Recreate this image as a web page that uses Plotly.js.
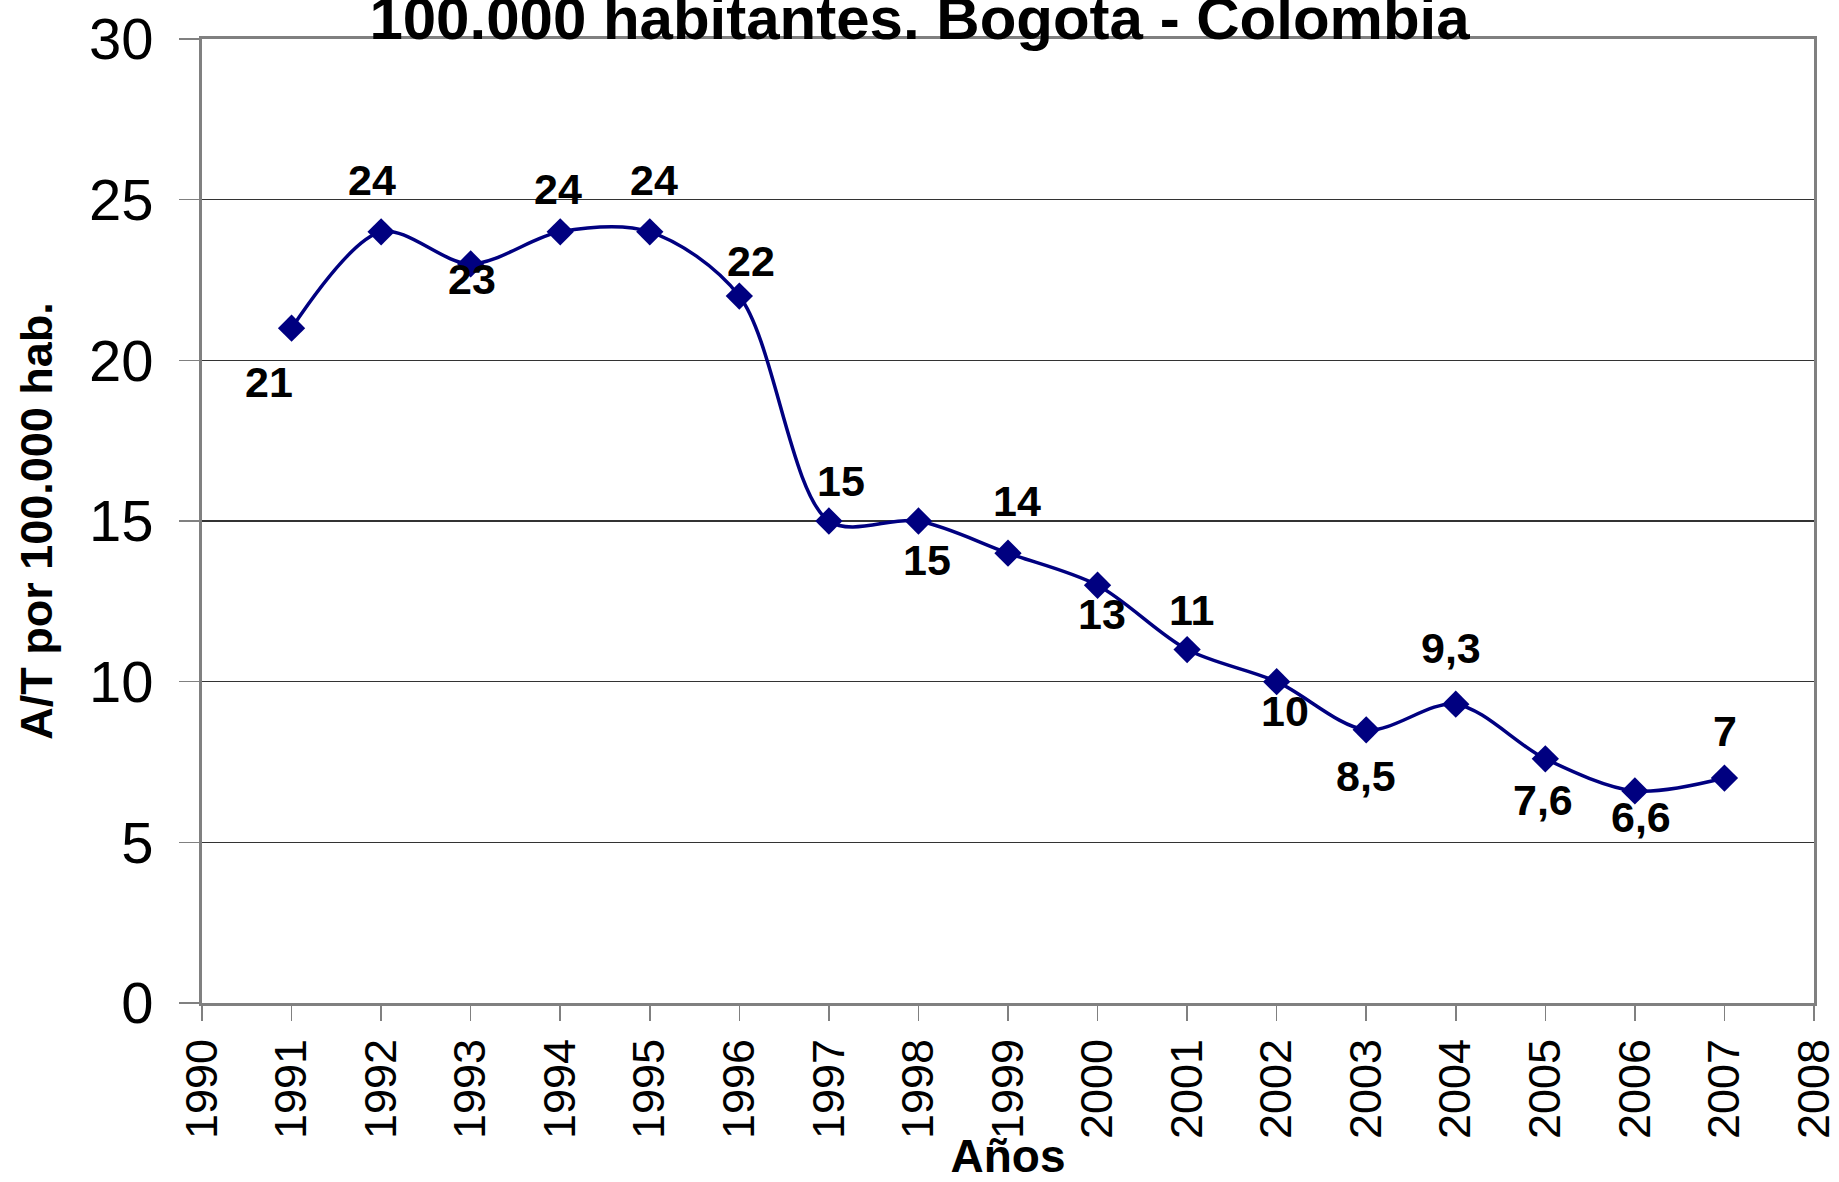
<!DOCTYPE html>
<html>
<head>
<meta charset="utf-8">
<script src="https://cdn.plot.ly/plotly-3.0.1.min.js"></script>
<style>html,body{margin:0;padding:0;background:#fff;}#chart{width:1839px;height:1182px;}</style>
</head>
<body>
<div id="chart"></div>
<script>
// Data
const years = [1991,1992,1993,1994,1995,1996,1997,1998,1999,2000,2001,2002,2003,2004,2005,2006,2007];
const rates = [21,24,23,24,24,22,15,15,14,13,11,10,8.5,9.3,7.6,6.6,7];
const titleText = "100.000 habitantes. Bogota - Colombia";
const xTitle = "Años";
const yTitle = "A/T por 100.000 hab.";
const xTickVals = [1990,1991,1992,1993,1994,1995,1996,1997,1998,1999,2000,2001,2002,2003,2004,2005,2006,2007,2008];
const yTickVals = [0,5,10,15,20,25,30];

// label placement (pixel offsets from each marker)
const labelDX = [-23,-9,1,-2,4,12,12,9,9,4,4,8,0,-5,-2,6,1];
const labelDY = [54,-52,15,-43,-52,-35,-40,39,-52,29,-40,29,46,-56,41,26,-47];

const fmt = v => String(v).replace('.', ',');
const boldFont = '"Liberation Sans", Arial, sans-serif';

const annotations = years.map((yr, i) => ({
  x: yr, y: rates[i], xref: 'x', yref: 'y',
  text: '<b>' + fmt(rates[i]) + '</b>',
  showarrow: false,
  xshift: labelDX[i], yshift: -labelDY[i],
  font: {family: boldFont, size: 43, color: '#000'}
}));

const trace = {
  x: years, y: rates, type: 'scatter', mode: 'lines+markers',
  line: {color: '#000080', width: 3.5, shape: 'spline', smoothing: 0.9},
  marker: {symbol: 'diamond', size: 21, color: '#000080'},
  hoverinfo: 'x+y'
};

const layout = {
  width: 1839, height: 1182,
  paper_bgcolor: '#fff', plot_bgcolor: '#fff',
  margin: {l: 202, r: 25, t: 39, b: 179},
  showlegend: false,
  title: {
    text: '<b>' + titleText + '</b>',
    x: 0.5, xref: 'container', xanchor: 'center',
    y: 1, yref: 'paper', yanchor: 'bottom',
    pad: {b: 0},
    font: {family: boldFont, size: 60, color: '#000'}
  },
  xaxis: {
    range: [1989.9999, 2008.0001], tickmode: 'array', tickvals: xTickVals,
    ticktext: xTickVals.map(String),
    tickangle: -90, ticks: 'outside', ticklen: 15, tickcolor: '#808080', tickwidth: 1.5,
    ticklabeloverflow: 'allow',
    tickfont: {family: 'Liberation Sans, Arial, sans-serif', size: 45, color: '#000'},
    showline: true, linecolor: '#808080', linewidth: 3, mirror: true,
    showgrid: false, zeroline: false,
    title: {text: '<b>' + xTitle + '</b>', standoff: 10,
      font: {family: boldFont, size: 46, color: '#000'}}
  },
  yaxis: {
    range: [0, 30], tickmode: 'array', tickvals: yTickVals,
    ticks: 'outside', ticklen: 20, tickcolor: '#808080', tickwidth: 1.5,
    ticklabelstandoff: 14,
    tickfont: {family: 'Liberation Sans, Arial, sans-serif', size: 58, color: '#000'},
    showline: true, linecolor: '#808080', linewidth: 3, mirror: true,
    showgrid: true, gridcolor: '#333', gridwidth: 1.3, zeroline: false,
    title: {text: '<b>' + yTitle + '</b>', standoff: 23,
      font: {family: boldFont, size: 45, color: '#000'}}
  },
  annotations: annotations
};

Plotly.newPlot('chart', [trace], layout, {displayModeBar: false, staticPlot: true});
</script>
</body>
</html>
